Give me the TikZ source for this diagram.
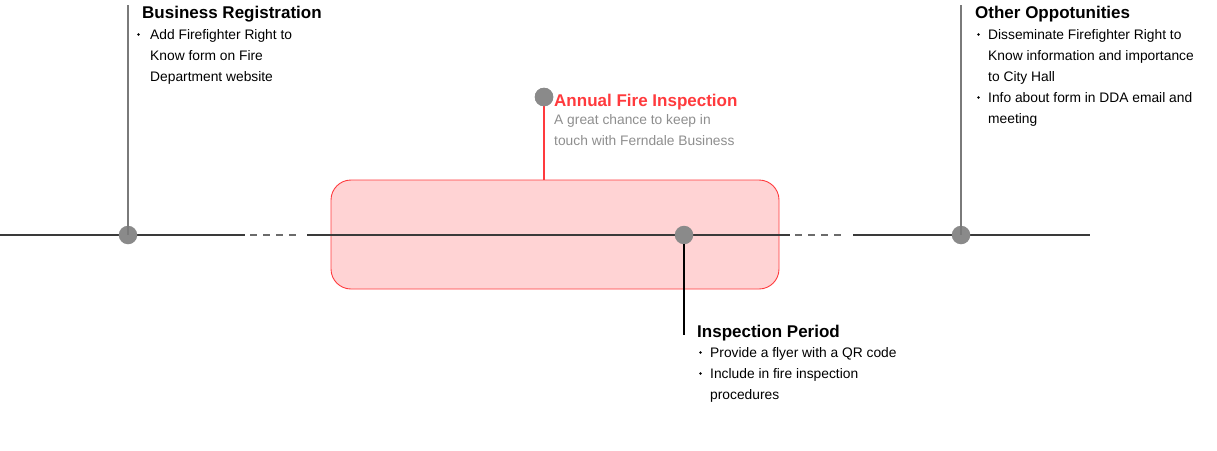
\documentclass[tikz,border=0pt]{standalone}
\usepackage{fontspec}
\setmainfont{Liberation Sans}
\begin{document}
\begin{tikzpicture}[x=1pt,y=-1pt,
  dotpt/.style={circle,fill=dotgray,inner sep=0pt,minimum size=18.5pt},
  bul/.style={circle,fill=black,inner sep=0pt,minimum size=2.8pt},
  head/.style={anchor=base west,inner sep=0pt,font=\fontsize{17}{20}\selectfont\bfseries},
  body/.style={anchor=base west,inner sep=0pt,font=\fontsize{13.8}{16}\selectfont},
  axis/.style={draw=axisgray,line width=1.3pt},
  gapline/.style={draw=axisgray!75,line width=1.3pt,dash pattern=on 6.5pt off 6.5pt},
  stem/.style={draw=stemgray,line width=1.6pt}]
\definecolor{dotgray}{HTML}{8A8A8A}
\definecolor{axisgray}{HTML}{3A3A3A}
\definecolor{stemgray}{HTML}{7A7A7A}
\definecolor{firered}{HTML}{FF3A3D}
\definecolor{firefill}{HTML}{FFD3D4}
\definecolor{softgray}{HTML}{8E8E8E}
\useasboundingbox (0,0) rectangle (1217,450);

% highlighted inspection window
\node[draw=firered,fill=firefill,rounded corners=20pt,line width=0.9pt,
      minimum width=448pt,minimum height=109pt,inner sep=0pt] (win) at (555,234.5) {};

% timeline segments
\coordinate (t0) at (0,235);
\coordinate (t1) at (245,235);
\coordinate (d1) at (250,235);
\coordinate (d2) at (302,235);
\coordinate (t2) at (307,235);
\coordinate (t3) at (790,235);
\coordinate (d3) at (795,235);
\coordinate (d4) at (847,235);
\coordinate (t4) at (853,235);
\coordinate (t5) at (1090,235);
\draw[axis] (t0) -- (t1);
\draw[gapline] (d1) -- (d2);
\draw[axis] (t2) -- (t3);
\draw[gapline] (d3) -- (d4);
\draw[axis] (t4) -- (t5);

% milestone dots
\node[dotpt] (reg) at (128,235) {};
\node[dotpt] (insp) at (684,235) {};
\node[dotpt] (other) at (961,235) {};
\node[dotpt] (annual) at (544,97) {};

% stems
\coordinate (regtop) at (128,5);
\coordinate (othertop) at (961,5);
\coordinate (inspbot) at (684,335);
\draw[stem] (regtop) -- (reg.center);
\draw[stem] (othertop) -- (other.center);
\draw[draw=black,line width=1.3pt] (insp.south) -- (inspbot);
\draw[draw=firered,line width=1.2pt] (annual.center) -- (annual.center |- win.north);
\node[dotpt] (annualtop) at (annual) {};

% Business Registration
\node[head] (brh) at (142,18) {Business Registration};
\node[bul] (brb1) at (138.5,34.5) {};
\node[body] (br1) at (150,39) {Add Firefighter Right to};
\node[body] (br2) at (150,60) {Know form on Fire};
\node[body] (br3) at (150,81) {Department website};

% Other Opportunities
\node[head] (oth) at (975,18) {Other Oppotunities};
\node[bul] (ob1) at (978.5,34.5) {};
\node[body] (o1) at (988,39) {Disseminate Firefighter Right to};
\node[body] (o2) at (988,60) {Know information and importance};
\node[body] (o3) at (988,81) {to City Hall};
\node[bul] (ob2) at (978.5,97.5) {};
\node[body] (o4) at (988,102) {Info about form in DDA email and};
\node[body] (o5) at (988,123) {meeting};

% Annual Fire Inspection
\node[head,text=firered] (ah) at (554,106) {Annual Fire Inspection};
\node[body,text=softgray] (a1) at (554,124) {A great chance to keep in};
\node[body,text=softgray] (a2) at (554,145) {touch with Ferndale Business};

% Inspection Period
\node[head] (ih) at (697,337) {Inspection Period};
\node[bul] (ib1) at (700.5,352.5) {};
\node[body] (i1) at (710,357) {Provide a flyer with a QR code};
\node[bul] (ib2) at (700.5,373.5) {};
\node[body] (i2) at (710,378) {Include in fire inspection};
\node[body] (i3) at (710,399) {procedures};
\end{tikzpicture}
\end{document}
